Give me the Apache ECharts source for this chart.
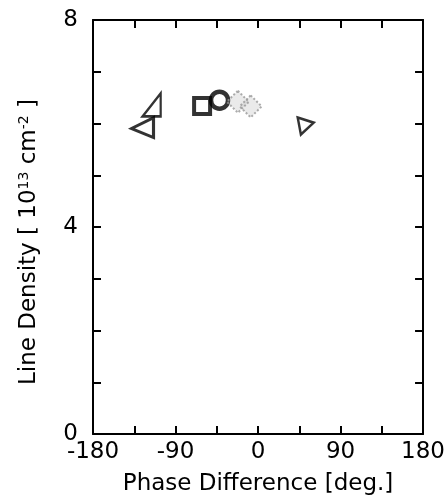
<!DOCTYPE html>
<html><head><meta charset="utf-8">
<script src="https://cdn.jsdelivr.net/npm/echarts@6/dist/echarts.min.js"></script>
<style>html,body{margin:0;padding:0;background:#fff}#c{width:448px;height:501px}</style>
</head><body><div id="c"></div>
<script>
// Data (phase difference [deg], line density [1e13 cm^-2])
const triUpData = [[-116, 6.36]];
const triLeftData = [[-126, 5.92]];
const squareData = [[-61, 6.34]];
const circleData = [[-42, 6.45]];
const diamondData = [[-22, 6.42], [-8, 6.33]];
const triRightData = [[52, 5.95]];
const xTickLabels = [-180, -90, 0, 90, 180];
const yTickLabels = [0, 4, 8];

const font = '"DejaVu Sans", "Liberation Sans", sans-serif';
const chart = echarts.init(document.getElementById('c'), null, {renderer: 'canvas'});
const mk = (data, symbol, size, style) => ({
  type: 'scatter', data, symbol, symbolSize: size,
  itemStyle: Object.assign({color: 'rgba(0,0,0,0)', borderColor: '#000', borderWidth: 2.5}, style)
});
const line = {show: true, onZero: false, lineStyle: {color: '#000', width: 2}};
const tick = {inside: true, length: 8, lineStyle: {color: '#000', width: 2}};
chart.setOption({
  animation: false,
  grid: {left: 93, right: 20, top: 20, bottom: 66},
  xAxis: [{
    type: 'value', min: -180, max: 180, interval: 45,
    axisLine: line, axisTick: tick, splitLine: {show: false},
    axisLabel: {color: '#000', fontFamily: font, fontSize: 23, margin: 7,
      formatter: v => xTickLabels.includes(v) ? String(v) : ''},
    name: 'Phase Difference [deg.]', nameLocation: 'middle', nameGap: 39,
    nameTextStyle: {color: '#000', fontFamily: font, fontSize: 23}
  }, {
    type: 'value', position: 'top', min: -180, max: 180, interval: 45,
    axisLine: line, axisTick: tick,
    axisLabel: {show: false}, splitLine: {show: false}
  }],
  yAxis: [{
    type: 'value', min: 0, max: 8, interval: 1,
    axisLine: line, axisTick: tick, splitLine: {show: false},
    axisLabel: {color: '#000', fontFamily: font, fontSize: 23, margin: 15,
      formatter: v => yTickLabels.includes(v) ? String(v) : ''},
    name: '{n|Line Density [ 10}{s|13}{n| cm}{s|-2}{n| ]}', nameLocation: 'middle', nameGap: 52, nameRotate: 90,
    nameTextStyle: {color: '#000', fontFamily: font, fontSize: 23, padding: [0, 30, 0, 0],
      rich: {n: {fontFamily: font, fontSize: 23, color: '#000'},
             s: {fontFamily: font, fontSize: 14, color: '#000', verticalAlign: 'top', padding: [0, 0, 10, 0]}}}
  }, {
    type: 'value', position: 'right', min: 0, max: 8, interval: 1,
    axisLine: line, axisTick: tick,
    axisLabel: {show: false}, splitLine: {show: false}
  }],
  series: [
    mk(triUpData, 'path://M20,0 L20,24 L0,24 Z', [18, 23], {borderWidth: 2.5}),
    mk(triLeftData, 'path://M0,12 L22,0 L22,22 Z', [22, 20], {borderWidth: 3}),
    mk(squareData, 'rect', 16, {borderWidth: 4}),
    mk(circleData, 'circle', 17, {borderWidth: 4.5}),
    mk(diamondData, 'diamond', [22, 22], {color: 'rgba(150,150,150,0.25)', borderColor: '#999', borderWidth: 2, borderType: 'dotted'}),
    mk(triRightData, 'path://M0,0 L20,6 L4,20 Z', [16, 17], {borderWidth: 2.5})
  ]
});
</script></body></html>
